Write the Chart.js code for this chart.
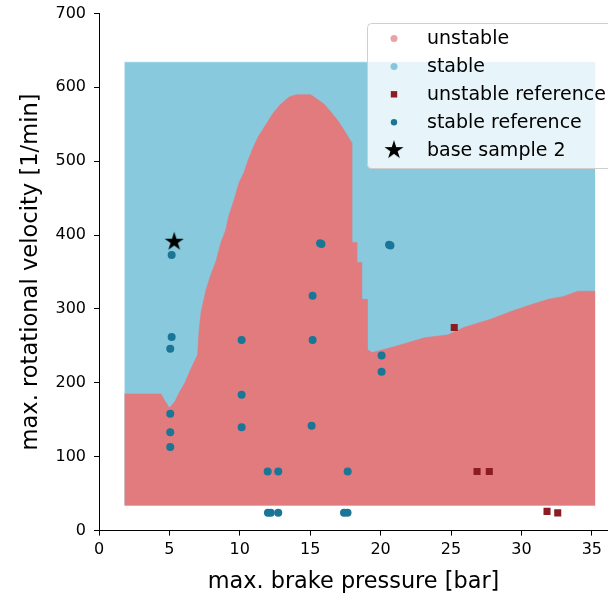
<!DOCTYPE html>
<html>
<head>
<meta charset="utf-8">
<script src="https://cdn.jsdelivr.net/npm/chart.js@4.4.1/dist/chart.umd.min.js"></script>
<style>
  html, body { margin: 0; padding: 0; background: #fff; }
  #chart { display: block; }
</style>
</head>
<body>
<canvas id="chart" width="608" height="596"></canvas>
<script>
// sampled grid extent (edge of the dense marker field)
const regionX = [1.8, 35.25];
const regionY = [34, 634];

// upper edge of the unstable region
const boundaryX = [1.8, 4.4, 4.7, 5.0, 5.4, 5.7, 6.1, 6.5, 7.0, 7.1, 7.25, 7.6, 7.95, 8.3, 8.66, 9.0, 9.2, 9.6, 9.95, 10.3, 10.6, 10.9, 11.3, 12.0, 12.4, 12.9, 13.5, 14.0, 15.05, 16.0, 16.5, 17.0, 17.5, 17.95, 17.95, 18.3, 18.3, 18.65, 18.65, 19.05, 19.05, 19.4, 21.0, 23.1, 24.8, 25.9, 27.8, 29.3, 30.7, 31.9, 33.0, 34.0, 35.25];
const boundaryY = [185, 185, 175, 166, 175, 187, 200, 218, 238, 270, 296, 326, 347, 364, 390, 407, 425, 448, 471, 485, 502, 516, 533, 554, 566, 577, 587, 590, 590, 577, 566, 554, 539, 525, 390, 390, 363, 363, 313, 313, 245, 241, 249, 261, 265, 275, 286, 297, 306, 313, 317, 324, 324];

const stableRefX = [5.16, 5.16, 5.06, 5.06, 5.06, 5.06, 10.13, 10.13, 10.13, 11.98, 12.73, 12.0, 12.2, 12.73, 15.17, 15.17, 15.1, 15.7, 15.8, 17.66, 17.4, 17.65, 20.07, 20.07, 20.6, 20.7];
const stableRefY = [373, 262, 246, 158, 133, 113, 258, 184, 140, 80, 80, 24, 24, 24, 318, 258, 142, 389, 388, 80, 24, 24, 237, 215, 387, 386];

const unstableRefX = [25.23, 26.85, 27.72, 31.82, 32.58];
const unstableRefY = [275, 80, 80, 26, 24];

const baseSampleX = [5.34];
const baseSampleY = [391];

const xTicks = [0, 5, 10, 15, 20, 25, 30, 35];
const yTicks = [0, 100, 200, 300, 400, 500, 600, 700];

const FONT = "'DejaVu Sans', sans-serif";
const RED_AREA = '#e17b7e';
const BLUE_AREA = '#89c9de';
const STABLE_REF = '#1a7696';
const UNSTABLE_REF = '#8c1c22';

function toPoints(xs, ys) {
  return xs.map((x, i) => ({ x: x, y: ys[i] }));
}

function starCanvas(r, color) {
  const size = Math.ceil(r * 2 + 4);
  const c = document.createElement('canvas');
  c.width = size;
  c.height = size;
  const g = c.getContext('2d');
  const cx = size / 2, cy = size / 2;
  g.beginPath();
  for (let i = 0; i < 10; i++) {
    const rad = i % 2 === 0 ? r : r * 0.382;
    const a = -Math.PI / 2 + i * Math.PI / 5;
    const px = cx + rad * Math.cos(a);
    const py = cy + rad * Math.sin(a);
    if (i === 0) g.moveTo(px, py); else g.lineTo(px, py);
  }
  g.closePath();
  g.fillStyle = color;
  g.fill();
  return c;
}

const starBig = starCanvas(10, '#000');

// legend markers, one per dataset label
const legendMarkers = {
  'unstable': { type: 'circle', r: 3.5, color: '#e9a2a6' },
  'stable': { type: 'circle', r: 3.5, color: '#86c6dc' },
  'unstable reference': { type: 'square', r: 3.2, color: UNSTABLE_REF },
  'stable reference': { type: 'circle', r: 3.2, color: STABLE_REF },
  'base sample 2': { type: 'star', r: 10, color: '#000' }
};

const legendPlugin = {
  id: 'legendPlugin',
  afterDraw(chart) {
    const ctx = chart.ctx;
    ctx.save();
    ctx.beginPath();
    ctx.roundRect(367.5, 23.5, 270, 145, 4);
    ctx.fillStyle = 'rgba(255,255,255,0.8)';
    ctx.fill();
    ctx.strokeStyle = '#cfcfcf';
    ctx.lineWidth = 1;
    ctx.stroke();

    const labels = chart.data.datasets.map(d => d.label);
    const rowStart = 38.5, rowStep = 27.9;
    ctx.font = '19px ' + FONT;
    ctx.textBaseline = 'middle';
    ctx.textAlign = 'left';
    labels.forEach((lab, i) => {
      const y = rowStart + i * rowStep;
      const m = legendMarkers[lab];
      const mx = 394;
      ctx.fillStyle = m.color;
      if (m.type === 'circle') {
        ctx.beginPath();
        ctx.arc(mx, y, m.r, 0, Math.PI * 2);
        ctx.fill();
      } else if (m.type === 'square') {
        ctx.fillRect(mx - m.r, y - m.r, m.r * 2, m.r * 2);
      } else {
        const s = starCanvas(m.r, m.color);
        ctx.drawImage(s, mx - s.width / 2, y - s.height / 2);
      }
      ctx.fillStyle = '#000';
      ctx.fillText(lab, 427, y + 1);
    });
    ctx.restore();
  }
};

new Chart(document.getElementById('chart').getContext('2d'), {
  type: 'scatter',
  data: {
    datasets: [
      {
        label: 'unstable',
        data: toPoints(boundaryX, boundaryY),
        showLine: true,
        tension: 0,
        pointRadius: 0,
        borderColor: RED_AREA,
        borderWidth: 0.5,
        backgroundColor: RED_AREA,
        fill: { value: regionY[0] },
        order: 3
      },
      {
        label: 'stable',
        data: toPoints(regionX, [regionY[1], regionY[1]]),
        showLine: true,
        pointRadius: 0,
        borderColor: BLUE_AREA,
        borderWidth: 0.5,
        backgroundColor: BLUE_AREA,
        fill: { value: regionY[0] },
        order: 4
      },
      {
        label: 'unstable reference',
        data: toPoints(unstableRefX, unstableRefY),
        pointStyle: 'rect',
        pointRadius: 5,
        backgroundColor: UNSTABLE_REF,
        borderColor: UNSTABLE_REF,
        borderWidth: 0,
        order: 1
      },
      {
        label: 'stable reference',
        data: toPoints(stableRefX, stableRefY),
        pointStyle: 'circle',
        pointRadius: 4,
        backgroundColor: STABLE_REF,
        borderColor: STABLE_REF,
        borderWidth: 0,
        order: 2
      },
      {
        label: 'base sample 2',
        data: toPoints(baseSampleX, baseSampleY),
        pointStyle: starBig,
        pointRadius: 10,
        order: 0
      }
    ]
  },
  options: {
    responsive: false,
    animation: false,
    events: [],
    layout: { autoPadding: false, padding: { top: 13.4, right: 0, left: 0, bottom: 0 } },
    plugins: {
      legend: { display: false },
      tooltip: { enabled: false }
    },
    scales: {
      x: {
        type: 'linear',
        min: 0,
        max: 36.15,
        afterFit: s => { s.height = 65.4; s.paddingLeft = 0; s.paddingRight = 0; },
        afterBuildTicks: s => { s.ticks = xTicks.map(v => ({ value: v })); },
        ticks: { color: '#000', font: { family: FONT, size: 16 }, padding: 5, maxRotation: 0 },
        grid: { drawOnChartArea: false, tickLength: 5, tickColor: '#000' },
        border: { display: true, color: '#000', width: 1 },
        title: {
          display: true,
          text: 'max. brake pressure [bar]',
          color: '#000',
          font: { family: FONT, size: 22.4 },
          padding: { top: 0, bottom: 0 }
        }
      },
      y: {
        type: 'linear',
        min: 0,
        max: 700,
        afterFit: s => { s.width = 99; s.paddingTop = 0; s.paddingBottom = 0; },
        afterBuildTicks: s => { s.ticks = yTicks.map(v => ({ value: v })); },
        ticks: { color: '#000', font: { family: FONT, size: 16 }, padding: 8 },
        grid: { drawOnChartArea: false, tickLength: 5, tickColor: '#000' },
        border: { display: true, color: '#000', width: 1 },
        title: {
          display: true,
          text: 'max. rotational velocity [1/min]',
          color: '#000',
          font: { family: FONT, size: 22.6 },
          padding: { top: 18, bottom: 0 }
        }
      }
    }
  },
  plugins: [legendPlugin]
});
</script>
</body>
</html>
